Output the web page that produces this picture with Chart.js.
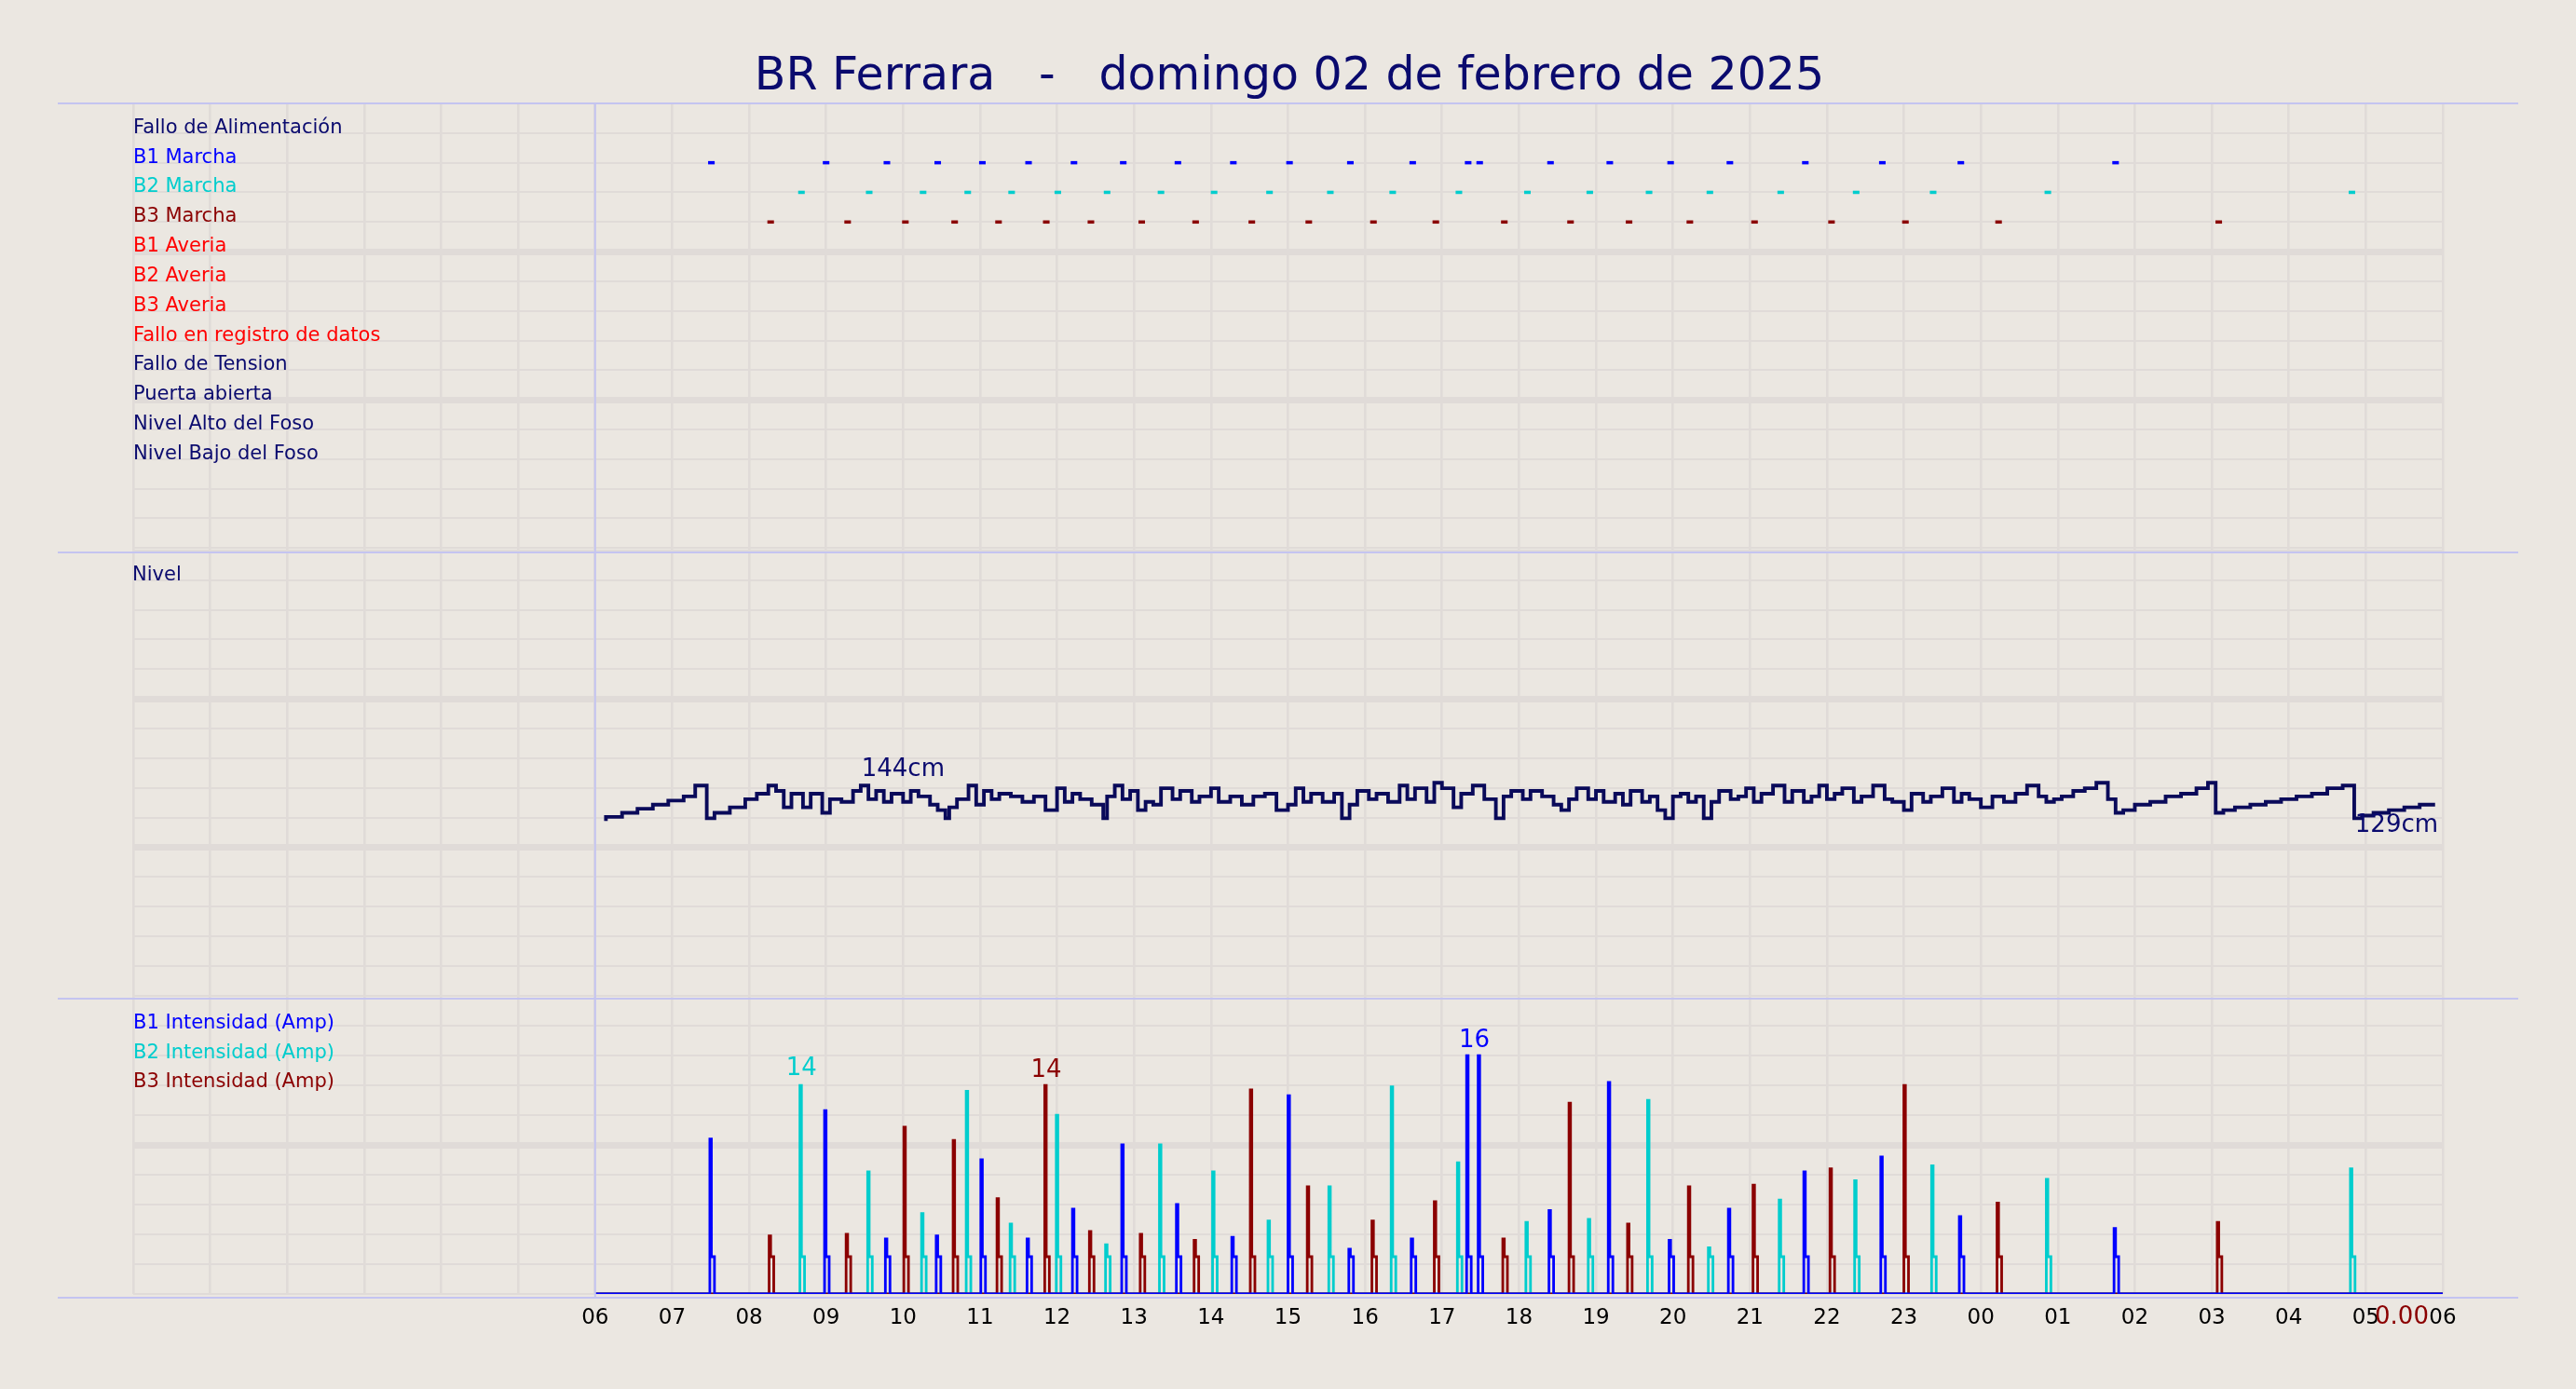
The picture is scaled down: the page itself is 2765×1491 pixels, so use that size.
<!DOCTYPE html>
<html><head><meta charset="utf-8">
<script src="https://cdn.jsdelivr.net/npm/chart.js@4"></script>
<style>html,body{margin:0;padding:0;background:#ebe7e1;}canvas{display:block}</style>
</head><body><canvas id="c" width="2765" height="1491"></canvas>
<script>
const S = 2765/1568;
const title = 'BR Ferrara   -   domingo 02 de febrero de 2025';
const rowLabels = ['Fallo de Alimentación','B1 Marcha','B2 Marcha','B3 Marcha','B1 Averia','B2 Averia','B3 Averia','Fallo en registro de datos','Fallo de Tension','Puerta abierta','Nivel Alto del Foso','Nivel Bajo del Foso'];
const rowColors = ['#0a0a6e','#0000ff','#00cdcd','#8b0000','#ff0000','#ff0000','#ff0000','#ff0000','#0a0a6e','#0a0a6e','#0a0a6e','#0a0a6e'];
// pump start times (hours since 00:00 of day, 24+ = next day)
const b1Starts = [7.51,9.0,9.79,10.45,11.03,11.63,12.22,12.86,13.57,14.29,15.02,15.81,16.62,17.34,17.49,18.41,19.18,19.97,20.74,21.72,22.72,23.74,25.75];
const b1Peaks  = [10.4,12.3,3.7,3.9,9,3.7,5.7,10,6,3.8,13.3,3,3.7,16,16,5.6,14.2,3.6,5.7,8.2,9.2,5.2,4.4];
const b2Starts = [8.68,9.56,10.26,10.84,11.41,12.01,12.65,13.35,14.04,14.76,15.55,16.36,17.22,18.11,18.92,19.69,20.48,21.4,22.38,23.38,24.87,28.82];
const b2Peaks  = [14,8.2,5.4,13.6,4.7,12,3.3,10,8.2,4.9,7.2,13.9,8.8,4.8,5,13,3.1,6.3,7.6,8.6,7.7,8.4];
const b3Starts = [8.28,9.28,10.03,10.67,11.24,11.86,12.44,13.1,13.8,14.53,15.27,16.11,16.92,17.81,18.67,19.43,20.22,21.06,22.06,23.02,24.23,27.09];
const b3Peaks  = [3.9,4,11.2,10.3,6.4,14,4.2,4,3.6,13.7,7.2,4.9,6.2,3.7,12.8,4.7,7.2,7.3,8.4,14,6.1,4.8];
const levelTimes = [6.14,6.35,6.55,6.75,6.95,7.15,7.3,7.45,7.55,7.75,7.95,8.1,8.25,8.35,8.45,8.55,8.7,8.8,8.95,9.05,9.2,9.35,9.45,9.55,9.65,9.75,9.85,10.0,10.1,10.2,10.35,10.45,10.55,10.6,10.7,10.85,10.95,11.05,11.15,11.25,11.4,11.55,11.7,11.85,12.0,12.1,12.2,12.3,12.45,12.6,12.65,12.75,12.85,12.95,13.05,13.15,13.25,13.35,13.5,13.6,13.75,13.85,14.0,14.1,14.25,14.4,14.55,14.7,14.85,15.0,15.1,15.2,15.3,15.45,15.6,15.7,15.8,15.9,16.05,16.15,16.3,16.45,16.55,16.65,16.8,16.9,17.0,17.15,17.25,17.4,17.55,17.7,17.8,17.9,18.05,18.15,18.3,18.45,18.55,18.65,18.75,18.9,19.0,19.1,19.25,19.35,19.45,19.6,19.7,19.8,19.9,20.0,20.1,20.2,20.3,20.4,20.5,20.6,20.75,20.85,20.95,21.05,21.15,21.3,21.45,21.55,21.7,21.8,21.9,22.0,22.1,22.2,22.35,22.45,22.6,22.75,22.85,23.0,23.1,23.25,23.35,23.5,23.65,23.75,23.85,24.0,24.15,24.3,24.45,24.6,24.75,24.85,24.95,25.05,25.2,25.35,25.5,25.65,25.75,25.85,26.0,26.2,26.4,26.6,26.8,26.95,27.05,27.15,27.3,27.5,27.7,27.9,28.1,28.3,28.5,28.7,28.85,28.95,29.1,29.3,29.5,29.7,29.9];
const levelValues = [130,131.5,133,134.5,136,137.5,139,143,131,133,135,138,140,143,141,135,140,135,140,133,138,137,141,143,138,141,137,140,137,141,139,136,134,131,135,138,143,136,141,138,140,139,137,139,134,142,137,140,138,136,131,139,143,138,141,134,137,136,142,138,141,137,139,142,137,139,136,139,140,134,136,142,137,140,137,140,131,136,141,138,140,137,143,138,142,137,144,142,135,140,143,138,131,139,141,138,141,139,136,134,138,142,138,141,137,140,136,141,137,139,134,131,139,140,137,139,131,137,141,138,139,142,137,140,143,137,141,137,139,143,138,140,142,137,139,143,138,137,134,140,137,139,142,137,140,138,135,139,137,140,143,139,137,138,139,141,142,144,138,133,134,136,137,139,140,142,144,133,134,135,136,137,138,139,140,142,143,131,132,133,134,135,136];
const xTicks = [6,7,8,9,10,11,12,13,14,15,16,17,18,19,20,21,22,23,24,25,26,27,28,29,30];

const HOLD = 2.5;
function runPoints(starts, peaks){
  const pts=[{x:6,y:0}];
  starts.forEach((t,i)=>{pts.push({x:t-0.02,y:0},{x:t,y:peaks[i]},{x:t+0.04,y:HOLD},{x:t+0.35,y:0});});
  pts.push({x:30,y:0});
  return pts;
}
function dots(starts,row){return starts.map(t=>({x:t,y:row}));}
const lvl = levelTimes.map((t,i)=>({x:t,y:levelValues[i]}));
const gridC='#e0dbd8';
const f = n => Math.round(n*S);

const overlay = {
  id:'overlay',
  beforeDraw(ch){const c=ch.ctx;c.save();c.fillStyle='#ebe7e1';c.fillRect(0,0,ch.width,ch.height);c.restore();},
  afterDraw(ch){
    const c=ch.ctx, xs=ch.scales.x, yr=ch.scales.yr, yl=ch.scales.yl, ya=ch.scales.ya;
    c.save();
    c.fillStyle='#0a0a6e';c.font=f(28)+'px "DejaVu Sans"';c.textAlign='center';c.textBaseline='middle';
    c.fillText(title,f(785),f(47));
    c.strokeStyle='#c4c4f0';c.lineWidth=2;
    [63,336,608,790].forEach(y=>{c.beginPath();c.moveTo(f(35),f(y));c.lineTo(f(1533),f(y));c.stroke();});
    c.beginPath();c.moveTo(xs.getPixelForValue(6),f(63));c.lineTo(xs.getPixelForValue(6),f(790));c.stroke();
    c.textAlign='left';c.textBaseline='alphabetic';c.font=f(12)+'px "DejaVu Sans"';
    const x0=xs.left;
    rowLabels.forEach((l,i)=>{c.fillStyle=rowColors[i];c.fillText(l,x0,yr.getPixelForValue(i+1));});
    c.fillStyle='#0a0a6e';c.fillText('Nivel',x0-1,yl.getPixelForValue(yl.max)+f(18));
    [['B1 Intensidad (Amp)','#0000ff'],['B2 Intensidad (Amp)','#00cdcd'],['B3 Intensidad (Amp)','#8b0000']].forEach((a,i)=>{c.fillStyle=a[1];c.fillText(a[0],x0,f(626+18*i));});
    c.font=f(15)+'px "DejaVu Sans"';c.textAlign='center';
    c.fillStyle='#0a0a6e';
    c.fillText('144cm',xs.getPixelForValue(10.0),yl.getPixelForValue(144)-f(4));
    c.fillText('129cm',xs.getPixelForValue(29.4),yl.getPixelForValue(129)+f(5));
    c.fillStyle='#00cdcd';c.fillText('14',xs.getPixelForValue(8.68),ya.getPixelForValue(14)-f(6));
    c.fillStyle='#8b0000';c.fillText('14',xs.getPixelForValue(11.86),ya.getPixelForValue(14)-f(5));
    c.fillStyle='#0000ff';c.fillText('16',xs.getPixelForValue(17.42),ya.getPixelForValue(16)-f(5));
    c.fillStyle='#8b0000';c.fillText('0.00',f(1462),f(806));
    c.restore();
  }
};
const noAxis = {afterFit(s){s.width=0;}};
new Chart(document.getElementById('c'),{
  type:'line',
  data:{datasets:[
    {data:dots(b1Starts,2),yAxisID:'yr',showLine:false,pointStyle:'line',pointRadius:2*S,borderColor:'#0000ff',borderWidth:2*S},
    {data:dots(b2Starts,3),yAxisID:'yr',showLine:false,pointStyle:'line',pointRadius:2*S,borderColor:'#00cdcd',borderWidth:2*S},
    {data:dots(b3Starts,4),yAxisID:'yr',showLine:false,pointStyle:'line',pointRadius:2*S,borderColor:'#8b0000',borderWidth:2*S},
    {data:lvl,yAxisID:'yl',stepped:'after',borderColor:'#0a0a5a',borderWidth:2.2*S,pointRadius:0},
    {data:runPoints(b1Starts,b1Peaks),yAxisID:'ya',stepped:'after',borderColor:'#0000ff',borderWidth:1.6*S,pointRadius:0},
    {data:runPoints(b3Starts,b3Peaks),yAxisID:'ya',stepped:'after',borderColor:'#8b0000',borderWidth:1.6*S,pointRadius:0},
    {data:runPoints(b2Starts,b2Peaks),yAxisID:'ya',stepped:'after',borderColor:'#00cdcd',borderWidth:1.6*S,pointRadius:0}
  ]},
  options:{
    responsive:false,animation:false,devicePixelRatio:1,
    layout:{padding:{left:f(81),right:f(81),top:f(63),bottom:f(38)}},
    plugins:{legend:{display:false},tooltip:{enabled:false},title:{display:false}},
    scales:{
      x:{type:'linear',min:0,max:30,
        afterBuildTicks(s){s.ticks=[];for(let h=0;h<=30;h++)s.ticks.push({value:h});},
        afterFit(s){s.height=f(20);},
        grid:{color:gridC,lineWidth:1.5*S,drawTicks:false},border:{display:false},
        ticks:{padding:f(7),color:'#000',font:{family:'DejaVu Sans',size:f(13)},maxRotation:0,autoSkip:false,
          callback:v=>xTicks.includes(v)?String(v%24).padStart(2,'0'):''}},
      ya:{type:'linear',position:'left',stack:'p',stackWeight:182,min:0,max:20,offset:false,...noAxis,
        ticks:{display:false,stepSize:2},border:{display:false},
        grid:{color:gridC,lineWidth:c=>c.tick&&c.tick.value===10?4*S:1.2*S,drawTicks:false}},
      yl:{type:'linear',position:'left',stack:'p',stackWeight:272,min:66,max:229,offset:false,...noAxis,
        afterBuildTicks(s){s.ticks=[];for(let i=0;i<=15;i++)s.ticks.push({value:66+(229-66)*i/15});},
        ticks:{display:false},border:{display:false},
        grid:{color:gridC,lineWidth:c=>(c.index===5||c.index===10)?4*S:1.2*S,drawTicks:false}},
      yr:{type:'linear',position:'left',stack:'p',stackWeight:273,min:0,max:15.08,reverse:true,offset:false,...noAxis,
        afterBuildTicks(s){s.ticks=[];for(let i=1;i<=15;i++)s.ticks.push({value:i});},
        ticks:{display:false},border:{display:false},
        grid:{color:gridC,lineWidth:c=>(c.tick&&(c.tick.value===5||c.tick.value===10))?4*S:1.2*S,drawTicks:false}}
    }
  },
  plugins:[overlay]
});
</script></body></html>
